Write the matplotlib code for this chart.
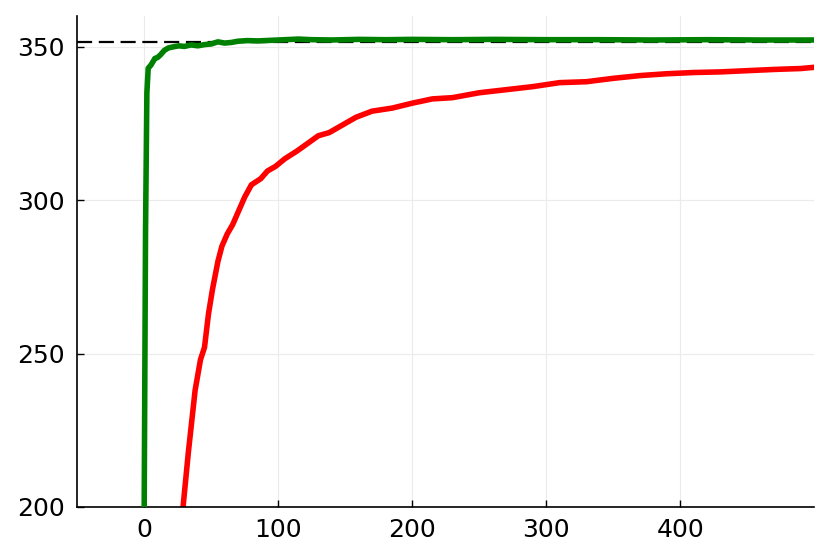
import matplotlib
matplotlib.use("Agg")
import matplotlib.pyplot as plt

# reference level (dashed)
target = 351.6

# green run: climbs almost at once
green_x = [0, 1, 2, 3, 5, 8, 10, 12, 15, 18, 22, 26, 30, 35, 40, 45, 50, 55, 60, 65,
           70, 77, 85, 95, 105, 115, 125, 140, 160, 180, 200, 230, 260, 300, 340,
           380, 420, 460, 500]
green_y = [200, 290, 335, 343, 344, 346.2, 346.5, 347.3, 348.8, 349.6, 350.0, 350.3,
           350.1, 350.6, 350.3, 350.7, 350.9, 351.6, 351.2, 351.4, 351.8, 352.0,
           351.9, 352.1, 352.3, 352.5, 352.3, 352.2, 352.4, 352.3, 352.4, 352.3,
           352.4, 352.3, 352.3, 352.2, 352.3, 352.2, 352.2]

# red run: starts late, slow approach
red_x = [29, 33, 38, 42, 45, 48, 51, 55, 58, 62, 66, 70, 75, 80, 87, 92, 98, 105,
         114, 122, 130, 138, 148, 158, 170, 185, 200, 215, 230, 250, 270, 290, 310,
         330, 350, 370, 390, 410, 430, 450, 470, 490, 500]
red_y = [200, 218, 238, 248, 252, 263, 271, 280, 285, 289, 292, 296, 301, 305, 307,
         309.5, 311, 313.5, 316, 318.5, 321, 322, 324.5, 327, 329, 330, 331.6, 333,
         333.4, 335, 336, 337, 338.3, 338.6, 339.7, 340.6, 341.2, 341.6, 341.8, 342.2,
         342.6, 342.9, 343.3]

fig = plt.figure(figsize=(8.3, 5.54), dpi=100)
ax = fig.add_axes([0.093, 0.085, 0.888, 0.886])

ax.axhline(target, color="black", lw=1.6, ls=(0, (6.8, 3)), zorder=1)
ax.plot(red_x, red_y, color="red", lw=4.0, solid_capstyle="round", zorder=2)
ax.plot(green_x, green_y, color="green", lw=4.0, solid_capstyle="round", zorder=3)

ax.set_xlim(-50, 500)
ax.set_ylim(200, 360)
ax.set_xticks([0, 100, 200, 300, 400])
ax.set_yticks([200, 250, 300, 350])
ax.grid(True, color="#ebebeb", lw=0.8)
ax.set_axisbelow(True)

for side in ["top", "right"]:
    ax.spines[side].set_visible(False)
for side in ["left", "bottom"]:
    ax.spines[side].set_linewidth(1.2)
ax.tick_params(direction="in", length=5, width=1, labelsize=18)
ax.tick_params(axis="y", pad=9)
ax.tick_params(axis="x", pad=8)

fig.savefig("out.png", dpi=100)
